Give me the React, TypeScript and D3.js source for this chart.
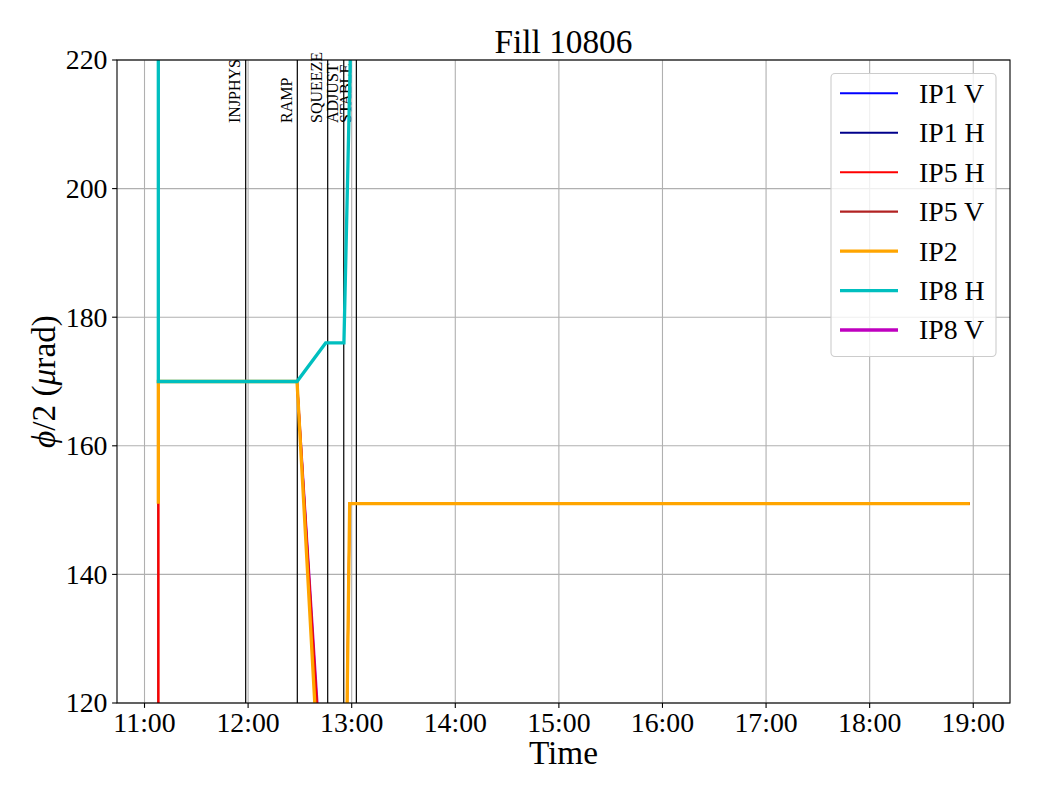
import * as d3 from "d3";

const TITLE = "Fill 10806";
const X_DOMAIN = ["10:44:04", "19:21:17"];
const Y_DOMAIN = [120, 220];
const Y_TICKS = [120, 140, 160, 180, 200, 220];
const X_TICKS = [
  "11:00:00",
  "12:00:00",
  "13:00:00",
  "14:00:00",
  "15:00:00",
  "16:00:00",
  "17:00:00",
  "18:00:00",
  "19:00:00",
];

const EVENT_NAMES = ["INJPHYS", "RAMP", "SQUEEZE", "ADJUST", "STABLE"];
const EVENT_TIMES = ["11:58:36", "12:28:30", "12:46:06", "12:55:24", "13:02:42"];

// [time, half crossing angle] – values outside 120..220 get clipped
const IP1_V: [string, number][] = [
  ["11:08:00", -160],
  ["18:58:00", -160],
];
const IP1_H: [string, number][] = [
  ["11:08:00", 0],
  ["18:58:00", 0],
];
const IP5_H: [string, number][] = [
  ["11:08:06", 100],
  ["11:08:06", 170],
  ["12:28:20", 170],
  ["12:44:14", 100],
  ["12:56:22", 100],
  ["12:58:50", 151],
  ["18:58:00", 151],
];
const IP5_V: [string, number][] = [
  ["11:07:54", 100],
  ["11:07:54", 170],
  ["12:28:20", 170],
  ["12:44:30", 100],
  ["12:56:22", 100],
  ["12:58:50", 151],
  ["18:58:00", 151],
];
const IP2: [string, number][] = [
  ["11:08:00", 151],
  ["11:08:00", 170],
  ["12:28:20", 170],
  ["12:42:44", 100],
  ["12:56:22", 100],
  ["12:58:50", 151],
  ["18:58:00", 151],
];
const IP8_H: [string, number][] = [
  ["11:08:00", 300],
  ["11:08:00", 170],
  ["12:28:20", 170],
  ["12:44:56", 176],
  ["12:55:30", 176],
  ["13:00:00", 230],
  ["18:58:00", 230],
];
const IP8_V: [string, number][] = [
  ["12:28:20", 170],
  ["12:44:50", 100],
  ["18:58:00", 100],
];

const SERIES_NAMES = ["IP1 V", "IP1 H", "IP5 H", "IP5 V", "IP2", "IP8 H", "IP8 V"];
const SERIES_DATA = [IP1_V, IP1_H, IP5_H, IP5_V, IP2, IP8_H, IP8_V];
const SERIES_COLORS = ["#0000ff", "#00008b", "#ff0000", "#b22222", "#ffa500", "#00bfbf", "#bf00bf"];
const SERIES_WIDTHS = [2.1, 2.1, 2.1, 2.1, 3.3, 3.3, 3.3];
// order the lines are painted in (IP8 V sits under the others)
const DRAW_ORDER = [6, 0, 1, 3, 2, 4, 5];
const PLOT_WIDTHS = [2.1, 2.1, 2.1, 2.1, 3.3, 3.3, 2.4];

const FONT = "'Liberation Serif', 'Times New Roman', serif";

const parse = d3.timeParse("%H:%M:%S");

function App() {
  const left = 117;
  const right = 1010;
  const top = 60;
  const bottom = 703;

  const xScale = d3
    .scaleTime()
    .domain(X_DOMAIN.map((t) => parse(t) as Date))
    .range([left, right]);
  const yScale = d3.scaleLinear().domain(Y_DOMAIN).range([bottom, top]);
  const fmt = d3.timeFormat("%H:%M");

  const line = d3
    .line<[string, number]>()
    .x((d) => xScale(parse(d[0]) as Date))
    .y((d) => yScale(d[1]));

  const legendTop = 93.3;
  const legendStep = 39.45;

  return (
    <svg
      width={1040}
      height={800}
      style={{ position: "absolute", left: 0, top: 0, background: "#fff" }}
      fontFamily={FONT}
    >
      <defs>
        <clipPath id="plot">
          <rect x={left} y={top} width={right - left} height={bottom - top} />
        </clipPath>
      </defs>

      {/* grid */}
      {X_TICKS.map((t) => {
        const x = xScale(parse(t) as Date);
        return <line key={t} x1={x} x2={x} y1={top} y2={bottom} stroke="#b0b0b0" strokeWidth={1.1} />;
      })}
      {Y_TICKS.map((v) => (
        <line key={v} x1={left} x2={right} y1={yScale(v)} y2={yScale(v)} stroke="#b0b0b0" strokeWidth={1.1} />
      ))}

      {/* event markers */}
      {EVENT_TIMES.map((t, i) => {
        const x = xScale(parse(t) as Date);
        return (
          <g key={t}>
            <line x1={x} x2={x} y1={top} y2={bottom} stroke="#000" strokeWidth={1.2} />
            <text
              transform={`translate(${x - 5.5},123) rotate(-90)`}
              fontSize={16}
              textAnchor="start"
            >
              {EVENT_NAMES[i]}
            </text>
          </g>
        );
      })}

      {/* series */}
      <g clipPath="url(#plot)">
        {DRAW_ORDER.map((i) => (
          <path
            key={SERIES_NAMES[i]}
            d={line(SERIES_DATA[i]) || ""}
            fill="none"
            stroke={SERIES_COLORS[i]}
            strokeWidth={PLOT_WIDTHS[i]}
            strokeLinejoin="miter"
          />
        ))}
      </g>

      {/* frame */}
      <rect x={left} y={top} width={right - left} height={bottom - top} fill="none" stroke="#000" strokeWidth={1.1} />

      {/* x axis */}
      {X_TICKS.map((t) => {
        const x = xScale(parse(t) as Date);
        return (
          <g key={t} transform={`translate(${x},${bottom})`}>
            <line y1={0} y2={4.9} stroke="#000" strokeWidth={1.1} />
            <text y={29} fontSize={27.8} textAnchor="middle">
              {fmt(parse(t) as Date)}
            </text>
          </g>
        );
      })}
      <text x={(left + right) / 2} y={764} fontSize={33.3} textAnchor="middle">
        Time
      </text>

      {/* y axis */}
      {Y_TICKS.map((v) => (
        <g key={v} transform={`translate(${left},${yScale(v)})`}>
          <line x1={0} x2={-4.9} stroke="#000" strokeWidth={1.1} />
          <text x={-9.5} dy="0.34em" fontSize={27.8} textAnchor="end">
            {v}
          </text>
        </g>
      ))}
      <text transform={`translate(55,${(top + bottom) / 2}) rotate(-90)`} fontSize={33.3} textAnchor="middle">
        <tspan fontStyle="italic">ϕ</tspan>
        <tspan>/2 (</tspan>
        <tspan fontStyle="italic">μ</tspan>
        <tspan>rad)</tspan>
      </text>

      {/* title */}
      <text x={(left + right) / 2} y={53} fontSize={33.3} textAnchor="middle">
        {TITLE}
      </text>

      {/* legend */}
      <rect x={831} y={73.5} width={165} height={283} rx={4} fill="#fff" fillOpacity={0.8} stroke="#cccccc" strokeWidth={1.1} />
      {SERIES_NAMES.map((name, i) => {
        const y = legendTop + legendStep * i;
        return (
          <g key={name}>
            <line x1={840} x2={898} y1={y} y2={y} stroke={SERIES_COLORS[i]} strokeWidth={SERIES_WIDTHS[i]} />
            <text x={919} y={y} dy="0.34em" fontSize={27.8}>
              {name}
            </text>
          </g>
        );
      })}
    </svg>
  );
}

export default App;
